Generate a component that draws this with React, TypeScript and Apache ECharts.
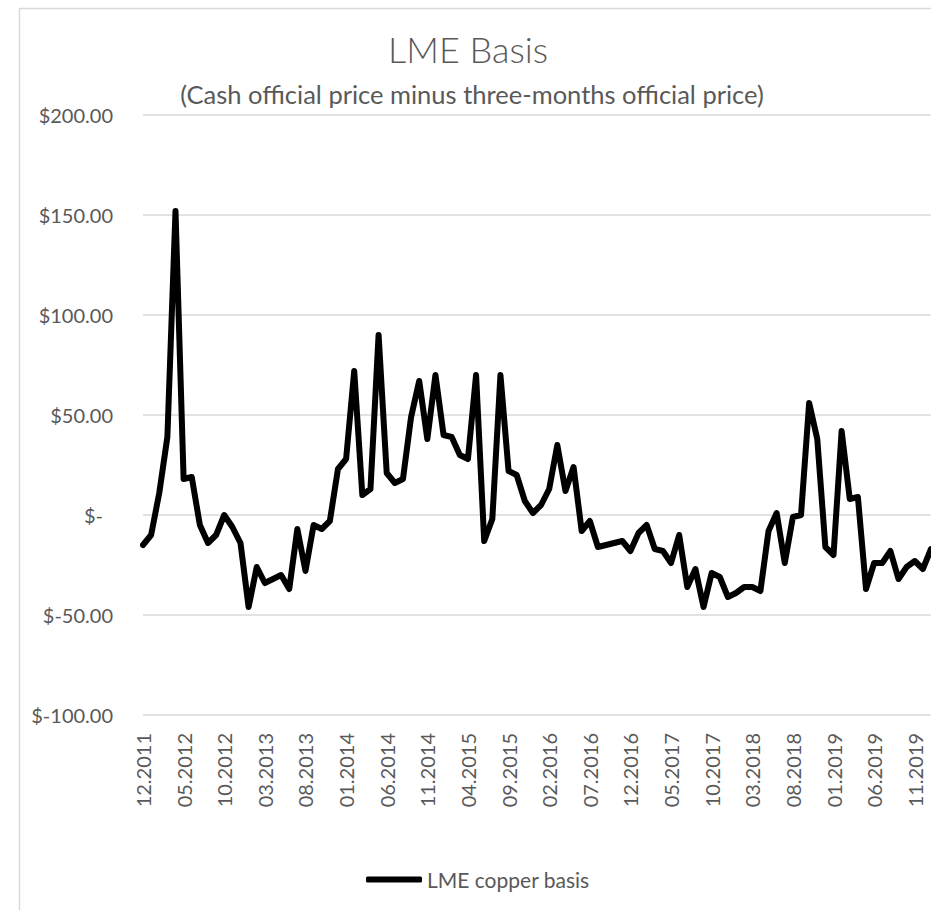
import React, { useEffect, useRef } from "react";
import * as echarts from "echarts";

// Monthly categories: 12.2011 .. 01.2020
const START_YEAR = 2011;
const START_MONTH = 12;
const MONTH_COUNT = 98;
const months: string[] = [];
for (let k = 0; k < MONTH_COUNT; k++) {
  const m0 = START_MONTH - 1 + k;
  const y = START_YEAR + Math.floor(m0 / 12);
  const m = (m0 % 12) + 1;
  months.push((m < 10 ? "0" + m : "" + m) + "." + y);
}

const basisValues: number[] = [
  -15, -10, 11, 39, 152, 18, 19, -5, -14, -10,
  0, -6, -14, -46, -26, -34, -32, -30, -37, -7,
  -28, -5, -7, -3, 23, 28, 72, 10, 13, 90,
  21, 16, 18, 49, 67, 38, 70, 40, 39, 30,
  28, 70, -13, -2, 70, 22, 20, 7, 1, 5,
  13, 35, 12, 24, -8, -3, -16, -15, -14, -13,
  -18, -9, -5, -17, -18, -24, -10, -36, -27, -46,
  -29, -31, -41, -39, -36, -36, -38, -8, 1, -24,
  -1, 0, 56, 38, -16, -20, 42, 8, 9, -37,
  -24, -24, -18, -32, -26, -23, -27, -17,
];

const seriesName = "LME copper basis";
const titleText = "LME Basis";
const subtitleText = "(Cash official price minus three-months official price)";
const yMin = -100;
const yMax = 200;
const yStep = 50;

const FONT = "Lato, 'Open Sans', sans-serif";
const TEXT = "#595959";
const GRID = "#d9d9d9";

export default function App() {
  const ref = useRef<HTMLDivElement>(null);
  useEffect(() => {
    if (!ref.current) return;
    const chart = echarts.init(ref.current, null, { renderer: "svg" });
    chart.setOption({
      animation: false,
      backgroundColor: "#ffffff",
      textStyle: { fontFamily: FONT },
      graphic: [
        {
          type: "rect",
          shape: { x: 19.5, y: 8.5, width: 1000, height: 1000 },
          style: { fill: "none", stroke: GRID, lineWidth: 1.5 },
          silent: true,
        },
        {
          type: "text",
          x: 468,
          y: 49,
          style: {
            text: titleText,
            fontSize: 36,
            fontWeight: 300,
            fontFamily: FONT,
            fill: TEXT,
            textAlign: "center",
            textVerticalAlign: "middle",
          },
        },
        {
          type: "text",
          x: 472,
          y: 94,
          style: {
            text: subtitleText,
            fontSize: 25.5,
            fontFamily: FONT,
            fill: TEXT,
            textAlign: "center",
            textVerticalAlign: "middle",
          },
        },
      ],
      legend: {
        data: [seriesName],
        left: 361,
        top: 864,
        icon: "roundRect",
        itemWidth: 56,
        itemHeight: 6,
        textStyle: { fontSize: 21, color: TEXT, fontFamily: FONT },
      },
      grid: { left: 143, right: 0, top: 115, bottom: 195, containLabel: false },
      xAxis: {
        type: "category",
        data: months,
        boundaryGap: false,
        axisLine: { show: false },
        axisTick: { show: false },
        axisLabel: {
          interval: 4,
          rotate: 90,
          margin: 18,
          fontSize: 20,
          color: TEXT,
          fontFamily: FONT,
        },
        splitLine: { show: false },
      },
      yAxis: {
        type: "value",
        min: yMin,
        max: yMax,
        interval: yStep,
        axisLine: { show: false },
        axisTick: { show: false },
        splitLine: { show: true, lineStyle: { color: GRID, width: 1.5 } },
        axisLabel: {
          margin: 30,
          fontSize: 20,
          color: TEXT,
          fontFamily: FONT,
          formatter: (v: number) =>
            v === 0 ? "{z|$-}" : "$" + v.toFixed(2),
          rich: {
            z: { fontSize: 20, color: TEXT, fontFamily: FONT, padding: [0, 10, 0, 0] },
          },
        },
      },
      series: [
        {
          name: seriesName,
          type: "line",
          data: basisValues,
          showSymbol: false,
          symbol: "none",
          itemStyle: { color: "#000000" },
          lineStyle: { color: "#000000", width: 6, cap: "round", join: "round" },
        },
      ],
    });
    return () => chart.dispose();
  }, []);
  return (
    <div
      ref={ref}
      style={{ position: "fixed", left: 0, top: 0, width: 931, height: 910 }}
    />
  );
}
